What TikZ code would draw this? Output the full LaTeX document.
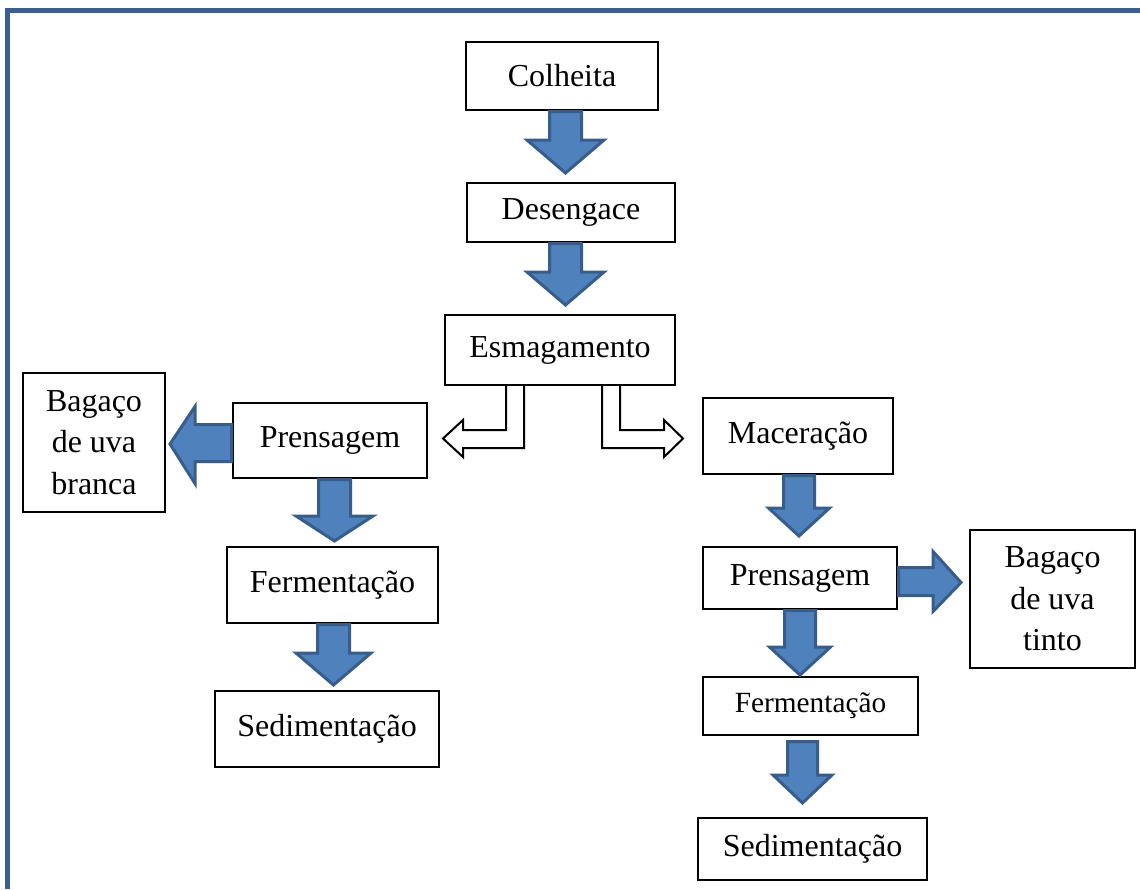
\documentclass[tikz,border=0pt]{standalone}
\usepackage{fontspec}
\setmainfont{Liberation Serif}
\definecolor{framecol}{HTML}{3A5F8E}
\definecolor{arrfill}{HTML}{4F81BD}
\definecolor{arrline}{HTML}{385D8A}
\newcommand{\fatdown}[6]{% cx, ytop, yhead, ytip, shaft half, head half
  \filldraw[fatarrow] (#1-#5,#2) -- (#1-#5,#3) -- (#1-#6,#3) -- (#1,#4) -- (#1+#6,#3) -- (#1+#5,#3) -- (#1+#5,#2) -- cycle;}
\begin{document}
\begin{tikzpicture}[x=1pt,y=-1pt,
  box/.style={draw=black, line width=2pt, fill=white, inner sep=0pt, align=center,
    font=\fontsize{32}{41.5}\selectfont},
  smallbox/.style={box, font=\fontsize{29.3}{36}\selectfont},
  fatarrow/.style={fill=arrfill, draw=arrline, line width=3pt, line join=miter},
  hollow/.style={fill=white, draw=black, line width=2pt, line join=miter}]
\useasboundingbox (0,0) rectangle (1140,889);
% frame
\fill[framecol] (5,8) rectangle (1140,13);
\fill[framecol] (5,8) rectangle (10,889);
% hollow bent arrows from Esmagamento
\filldraw[hollow] (524,384) -- (524,448) -- (463,448) -- (463,457) -- (443,438.5) -- (463,420) -- (463,430) -- (506,430) -- (506,384);
\filldraw[hollow] (602,384) -- (602,448) -- (664,448) -- (664,457) -- (683,438.5) -- (664,420) -- (664,430) -- (620,430) -- (620,384);
% nodes
\node[box, minimum width=192pt, minimum height=68pt] (col) at (562,76) {Colheita};
\node[box, minimum width=208pt, minimum height=59pt] (des) at (571,212.5) {Desengace};
\node[box, minimum width=230pt, minimum height=70pt] (esm) at (560,350) {Esmagamento};
\node[box, minimum width=194pt, minimum height=75pt] (prl) at (330,440.5) {Prensagem};
\node[box, minimum width=142pt, minimum height=139pt] (bagb) at (94,442.5) {Bagaço\\de uva\\branca};
\node[box, minimum width=211pt, minimum height=76pt] (fel) at (332.5,585) {Fermentação};
\node[box, minimum width=224pt, minimum height=76pt] (sel) at (327,729) {Sedimentação};
\node[box, minimum width=190pt, minimum height=76pt] (mac) at (798,436) {Maceração};
\node[box, minimum width=194pt, minimum height=62pt] (prr) at (800,578) {Prensagem};
\node[box, minimum width=165pt, minimum height=138pt] (bagt) at (1052.5,599) {Bagaço\\de uva\\tinto};
\node[smallbox, minimum width=215pt, minimum height=58pt] (fer) at (810.5,706) {Fermentação};
\node[box, minimum width=229pt, minimum height=62pt] (ser) at (812.5,849) {Sedimentação};
% fat down arrows
\fatdown{565.5}{111.5}{140}{173}{16}{38.5}
\fatdown{565.5}{243.5}{272}{305}{16}{38.5}
\fatdown{334.5}{479.5}{516}{541}{16}{38.5}
\fatdown{333.5}{624.5}{653}{685}{16}{37.5}
\fatdown{799}{475.5}{508}{536}{15.5}{30.5}
\fatdown{800}{610.5}{647}{675}{15.5}{30.5}
\fatdown{802.5}{741.5}{775}{803}{15}{29.5}
% left fat arrow to Bagaço branca
\filldraw[fatarrow] (231.5,424.5) -- (195,424.5) -- (195,406.5) -- (170,444) -- (195,483.5) -- (195,461.5) -- (231.5,461.5) -- cycle;
% right fat arrow to Bagaço tinto
\filldraw[fatarrow] (898.5,567.5) -- (933,567.5) -- (933,551.5) -- (961,582.5) -- (933,611.5) -- (933,595.5) -- (898.5,595.5) -- cycle;
\end{tikzpicture}
\end{document}
